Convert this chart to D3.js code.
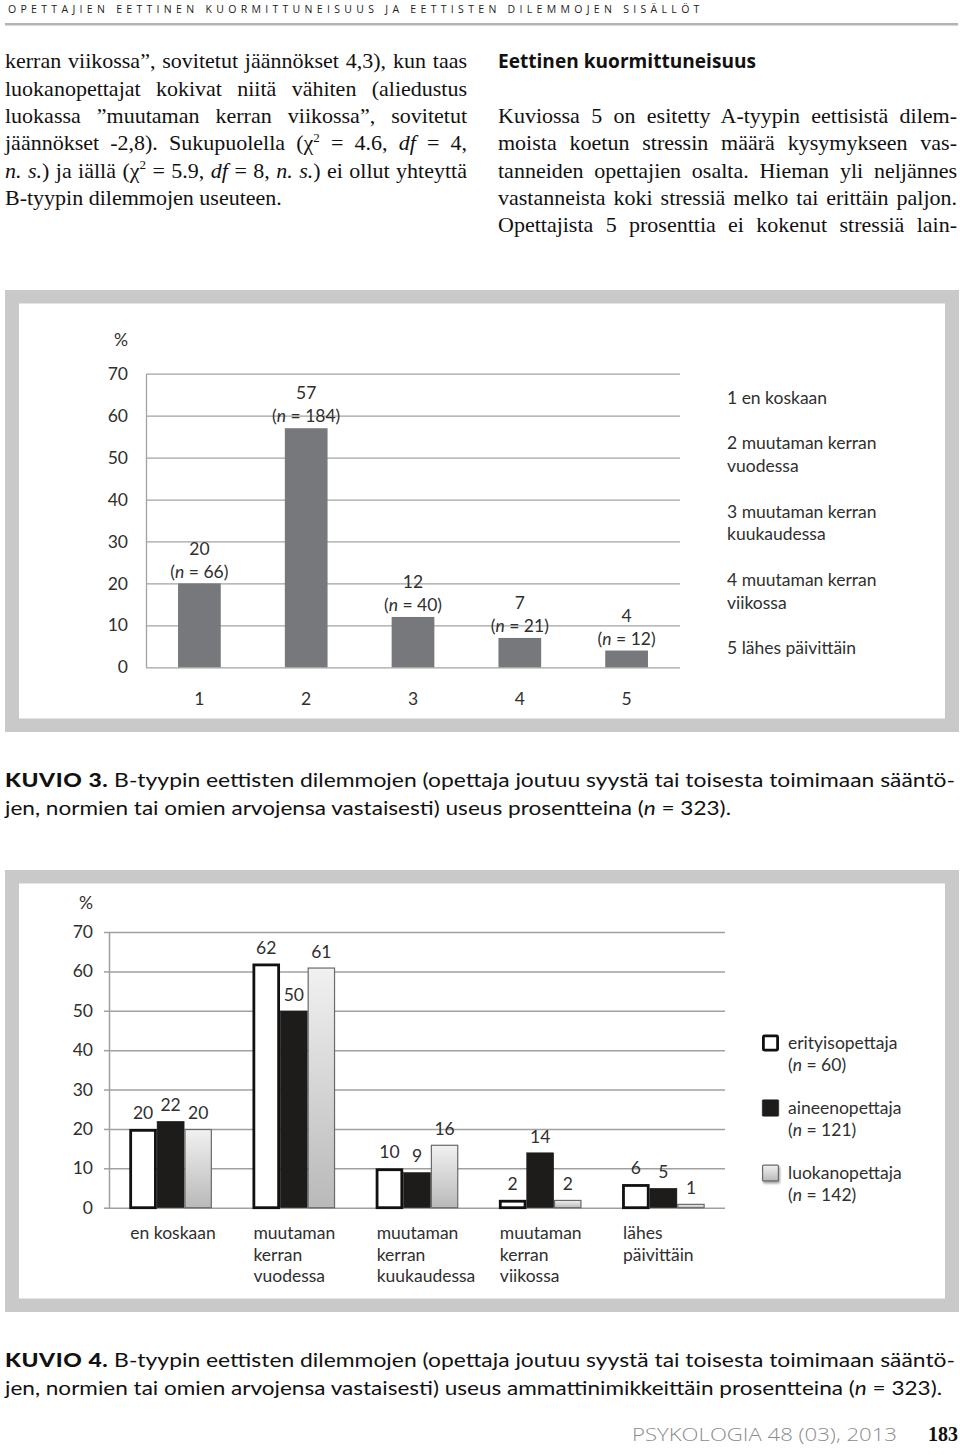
<!DOCTYPE html>
<html><head><meta charset="utf-8">
<script src="https://cdn.jsdelivr.net/npm/d3@7"></script>
<style>html,body{margin:0;padding:0;background:#fff;}svg{display:block;}</style>
</head><body>
<svg id="page" width="960" height="1455"></svg>
<script>
// ---------- DATA ----------
const headerText = "OPETTAJIEN EETTINEN KUORMITTUNEISUUS JA EETTISTEN DILEMMOJEN SISÄLLÖT";
const yTicks = [0, 10, 20, 30, 40, 50, 60, 70];

// Kuvio 3
const freqLabels = ["1", "2", "3", "4", "5"];
const freqPct = [20, 57, 12, 7, 4];
const freqN = [66, 184, 40, 21, 12];
const freqLegend = [["1 en koskaan"], ["2 muutaman kerran", "vuodessa"], ["3 muutaman kerran", "kuukaudessa"], ["4 muutaman kerran", "viikossa"], ["5 lähes päivittäin"]];

// Kuvio 4
const groupCats = ["en koskaan", "muutaman kerran vuodessa", "muutaman kerran kuukaudessa", "muutaman kerran viikossa", "lähes päivittäin"];
const groupCatLines = [["en koskaan"], ["muutaman", "kerran", "vuodessa"], ["muutaman", "kerran", "kuukaudessa"], ["muutaman", "kerran", "viikossa"], ["lähes", "päivittäin"]];
const seriesNames = ["erityisopettaja", "aineenopettaja", "luokanopettaja"];
const seriesN = [60, 121, 142];
const erityisopettaja = [20, 62, 10, 2, 6];
const aineenopettaja = [22, 50, 9, 14, 5];
const luokanopettaja = [20, 61, 16, 2, 1];
const seriesValues = [erityisopettaja, aineenopettaja, luokanopettaja];

// ---------- PAGE ----------
const svg = d3.select("#page");
const defs = svg.append("defs");
const grad = defs.append("linearGradient").attr("id", "grayGrad").attr("x1", 0).attr("y1", 0).attr("x2", 0).attr("y2", 1);
grad.append("stop").attr("offset", "0%").attr("stop-color", "#f1f1f1");
grad.append("stop").attr("offset", "100%").attr("stop-color", "#b9b9b9");
const shadow = defs.append("filter").attr("id", "shadow").attr("x", "-30%").attr("y", "-30%").attr("width", "180%").attr("height", "180%");
shadow.append("feDropShadow").attr("dx", 1).attr("dy", 2).attr("stdDeviation", 1.2).attr("flood-color", "#777").attr("flood-opacity", 0.7);

const SERIF = "'Liberation Serif','DejaVu Serif',serif";
const SANS = "Lato,'Open Sans','Noto Sans',sans-serif";
const CHART_FS = 17.5;

function justify(sel, target) {
  const node = sel.node();
  const nat = node.getComputedTextLength();
  const spaces = (node.textContent.match(/ /g) || []).length;
  if (nat <= target && spaces > 0) {
    sel.style("word-spacing", ((target - nat) / spaces) + "px");
  } else {
    sel.attr("textLength", target).attr("lengthAdjust", "spacingAndGlyphs");
  }
}
function fitWidth(sel, target) {
  sel.attr("textLength", target).attr("lengthAdjust", "spacingAndGlyphs");
}

// header
svg.append("text").attr("x", 8).attr("y", 12.5)
  .attr("font-family", "'Open Sans',Lato,sans-serif").attr("font-size", 10.5)
  .attr("fill", "#222").style("letter-spacing", "2.6px")
  .text(headerText).call(s => s.attr("textLength", 694).attr("lengthAdjust", "spacing"));
svg.append("rect").attr("x", 5).attr("y", 23).attr("width", 953).attr("height", 2.5).attr("fill", "#b3b3b3");

// body text columns
const leftLines = [
  [["kerran viikossa”, sovitetut jäännökset 4,3), kun taas"]],
  [["luokanopettajat kokivat niitä vähiten (aliedustus"]],
  [["luokassa ”muutaman kerran viikossa”, sovitetut"]],
  [["jäännökset -2,8). Sukupuolella (χ"], ["2", "sup"], [" = 4.6, "], ["df", "i"], [" = 4,"]],
  [["n. s.", "i"], [") ja iällä (χ"], ["2", "sup"], [" = 5.9, "], ["df", "i"], [" = 8, "], ["n. s.", "i"], [") ei ollut yhteyttä"]],
  [["B-tyypin dilemmojen useuteen."]]
];
const rightLines = [
  [["Kuviossa 5 on esitetty A-tyypin eettisistä dilem-"]],
  [["moista koetun stressin määrä kysymykseen vas-"]],
  [["tanneiden opettajien osalta. Hieman yli neljännes"]],
  [["vastanneista koki stressiä melko tai erittäin paljon."]],
  [["Opettajista 5 prosenttia ei kokenut stressiä lain-"]]
];
function drawLine(x, y, parts, target) {
  const t = svg.append("text").attr("x", x).attr("y", y)
    .attr("font-family", SERIF).attr("font-size", 22).attr("fill", "#111");
  let prevSup = false;
  parts.forEach(p => {
    const ts = t.append("tspan").text(p[0]);
    if (p[1] === "i") ts.attr("font-style", "italic");
    if (p[1] === "sup") { ts.attr("font-size", 13).attr("dy", -8.5); }
    else if (prevSup) ts.attr("dy", 8.5);
    prevSup = p[1] === "sup";
  });
  if (target) justify(t, target);
  return t;
}
const baseL = 68.3, step = 27.3;
leftLines.forEach((parts, i) => drawLine(5, baseL + i * step, parts, i < leftLines.length - 1 ? 462 : null));
svg.append("text").attr("x", 498).attr("y", 68.3)
  .attr("font-family", "'Open Sans',Lato,sans-serif").attr("font-weight", 700).attr("font-size", 20)
  .attr("fill", "#111").text("Eettinen kuormittuneisuus").call(s => fitWidth(s, 258));
rightLines.forEach((parts, i) => drawLine(498, baseL + (i + 2) * step, parts, 459));

// ---------- KUVIO 3 ----------
function frame(y0, y1) {
  svg.append("rect").attr("x", 5).attr("y", y0).attr("width", 954).attr("height", y1 - y0).attr("fill", "#c9c9c9");
  svg.append("rect").attr("x", 19).attr("y", y0 + 13.5).attr("width", 926).attr("height", y1 - y0 - 27).attr("fill", "#fff");
}
frame(290, 732);

const c1 = svg.append("g").attr("font-family", SANS).attr("fill", "#2f2f2f");
const x1 = d3.scaleBand().domain(freqLabels).range([146, 680]).paddingInner(0.6).paddingOuter(0.3);
const y1 = d3.scaleLinear().domain([0, 70]).range([667.3, 373.7]);
const ax1 = c1.append("g").attr("transform", "translate(146,0)")
  .call(d3.axisLeft(y1).tickValues(yTicks).tickSize(-534).tickSizeOuter(0).tickPadding(18));
ax1.select(".domain").attr("stroke", "#a3a3a3").attr("stroke-width", 1.3);
ax1.selectAll(".tick line").attr("stroke", "#a3a3a3").attr("stroke-width", 1.3);
ax1.selectAll(".tick text").attr("font-family", SANS).attr("font-size", CHART_FS).attr("fill", "#2f2f2f");
c1.append("text").attr("x", 128).attr("y", 340).attr("dy", "0.35em").attr("text-anchor", "end")
  .attr("font-size", CHART_FS).text("%");

c1.selectAll("rect.bar").data(freqPct).join("rect").attr("class", "bar")
  .attr("x", (d, i) => x1(freqLabels[i])).attr("width", x1.bandwidth())
  .attr("y", d => y1(d)).attr("height", d => y1(0) - y1(d)).attr("fill", "#77787b");

freqPct.forEach((v, i) => {
  const cx = x1(freqLabels[i]) + x1.bandwidth() / 2;
  c1.append("text").attr("x", cx).attr("y", y1(v) - 35).attr("dy", "0.35em").attr("text-anchor", "middle")
    .attr("font-size", CHART_FS).text(v);
  const t = c1.append("text").attr("x", cx).attr("y", y1(v) - 12).attr("dy", "0.35em").attr("text-anchor", "middle")
    .attr("font-size", CHART_FS);
  t.append("tspan").text("(");
  t.append("tspan").attr("font-style", "italic").text("n");
  t.append("tspan").text(" = " + freqN[i] + ")");
  c1.append("text").attr("x", cx).attr("y", 699).attr("dy", "0.35em").attr("text-anchor", "middle")
    .attr("font-size", CHART_FS).text(freqLabels[i]);
});

let ly = 397.7;
freqLegend.forEach(lines => {
  lines.forEach((ln, j) => {
    c1.append("text").attr("x", 727).attr("y", ly + j * 22.7).attr("dy", "0.35em").attr("font-size", CHART_FS).text(ln);
  });
  ly += lines.length * 22.7 + 22.9;
});

// caption
function caption(y, num, line1, line2parts, w2) {
  const t1 = svg.append("text").attr("x", 5).attr("y", y).attr("font-family", SANS).attr("font-size", 19.5).attr("fill", "#111");
  t1.append("tspan").attr("font-weight", 900).style("letter-spacing", "0.5px").text("KUVIO " + num + ".");
  t1.append("tspan").text(" " + line1);
  fitWidth(t1, 950);
  const t2 = svg.append("text").attr("x", 5).attr("y", y + 28).attr("font-family", SANS).attr("font-size", 19.5).attr("fill", "#111");
  line2parts.forEach(p => { const ts = t2.append("tspan").text(p[0]); if (p[1]) ts.attr("font-style", "italic"); });
  fitWidth(t2, w2);
}
caption(787, 3, "B-tyypin eettisten dilemmojen (opettaja joutuu syystä tai toisesta toimimaan sääntö-",
  [["jen, normien tai omien arvojensa vastaisesti) useus prosentteina ("], ["n", true], [" = 323).",]], 726);

// ---------- KUVIO 4 ----------
frame(870, 1312);
const c2 = svg.append("g").attr("font-family", SANS).attr("fill", "#2f2f2f");
const x2 = d3.scaleBand().domain(groupCats).range([109, 725]).paddingInner(0.329).paddingOuter(0.1645);
const xs = d3.scaleBand().domain(seriesNames).range([0, x2.bandwidth()]);
const y2 = d3.scaleLinear().domain([0, 70]).range([1207.7, 932]);
const ax2 = c2.append("g").attr("transform", "translate(109,0)")
  .call(d3.axisLeft(y2).tickValues(yTicks).tickSize(-616).tickSizeOuter(0).tickPadding(16));
ax2.select(".domain").attr("stroke", "#a0a0a0").attr("stroke-width", 1.5);
ax2.selectAll(".tick line").attr("stroke", "#a0a0a0").attr("stroke-width", 1.5);
ax2.selectAll(".tick").append("line").attr("x1", 0).attr("x2", -5).attr("stroke", "#a0a0a0").attr("stroke-width", 1.5);
ax2.selectAll(".tick text").attr("font-family", SANS).attr("font-size", CHART_FS).attr("fill", "#2f2f2f");
c2.append("text").attr("x", 93).attr("y", 903.3).attr("dy", "0.35em").attr("text-anchor", "end").attr("font-size", CHART_FS).text("%");

const styles = [
  { fill: "#ffffff", stroke: "#111", sw: 2.8 },
  { fill: "#1e1b1b", stroke: "#1e1b1b", sw: 0.5 },
  { fill: "url(#grayGrad)", stroke: "#6a6a6a", sw: 1.2 }
];
seriesNames.forEach((s, si) => {
  const st = styles[si];
  c2.selectAll("rect.s" + si).data(seriesValues[si]).join("rect").attr("class", "s" + si)
    .attr("x", (d, i) => x2(groupCats[i]) + xs(s) + st.sw / 2)
    .attr("width", xs.bandwidth() - st.sw)
    .attr("y", d => y2(d) + st.sw / 2)
    .attr("height", d => Math.max(0, y2(0) - y2(d) - st.sw / 2))
    .attr("fill", st.fill).attr("stroke", st.stroke).attr("stroke-width", st.sw);
});
seriesNames.forEach((s, si) => {
  seriesValues[si].forEach((v, i) => {
    c2.append("text").attr("x", x2(groupCats[i]) + xs(s) + xs.bandwidth() / 2).attr("y", y2(v) - 16)
      .attr("dy", "0.35em").attr("text-anchor", "middle").attr("font-size", CHART_FS).text(v);
  });
});
groupCatLines.forEach((lines, i) => {
  lines.forEach((ln, j) => {
    c2.append("text").attr("x", x2(groupCats[i]) + 1).attr("y", 1233.3 + j * 21.2).attr("dy", "0.35em")
      .attr("font-size", CHART_FS).text(ln);
  });
});
// legend
seriesNames.forEach((s, si) => {
  const cy = 1043 + si * 65;
  const st = styles[si];
  const r = c2.append("rect").attr("x", 762 + st.sw / 2).attr("y", cy - 8.5 + st.sw / 2)
    .attr("width", 17 - st.sw).attr("height", 17 - st.sw).attr("rx", 1)
    .attr("fill", st.fill).attr("stroke", st.stroke).attr("stroke-width", st.sw);
  if (si === 2) r.attr("filter", "url(#shadow)");
  c2.append("text").attr("x", 788).attr("y", cy).attr("dy", "0.35em").attr("font-size", CHART_FS).text(s);
  const t = c2.append("text").attr("x", 788).attr("y", cy + 21.4).attr("dy", "0.35em").attr("font-size", CHART_FS);
  t.append("tspan").text("(");
  t.append("tspan").attr("font-style", "italic").text("n");
  t.append("tspan").text(" = " + seriesN[si] + ")");
});

caption(1367, 4, "B-tyypin eettisten dilemmojen (opettaja joutuu syystä tai toisesta toimimaan sääntö-",
  [["jen, normien tai omien arvojensa vastaisesti) useus ammattinimikkeittäin prosentteina ("], ["n", true], [" = 323).",]], 937);

// footer
svg.append("text").attr("x", 632).attr("y", 1441).attr("font-family", "'Open Sans',Lato,sans-serif")
  .attr("font-weight", 300).attr("font-size", 18).attr("fill", "#8c8c8c").text("PSYKOLOGIA 48 (03), 2013")
  .call(s => fitWidth(s, 265));
svg.append("text").attr("x", 958).attr("y", 1441).attr("text-anchor", "end").attr("font-family", SERIF)
  .attr("font-weight", 700).attr("font-size", 20).attr("fill", "#111").text("183");
</script>
</body></html>
